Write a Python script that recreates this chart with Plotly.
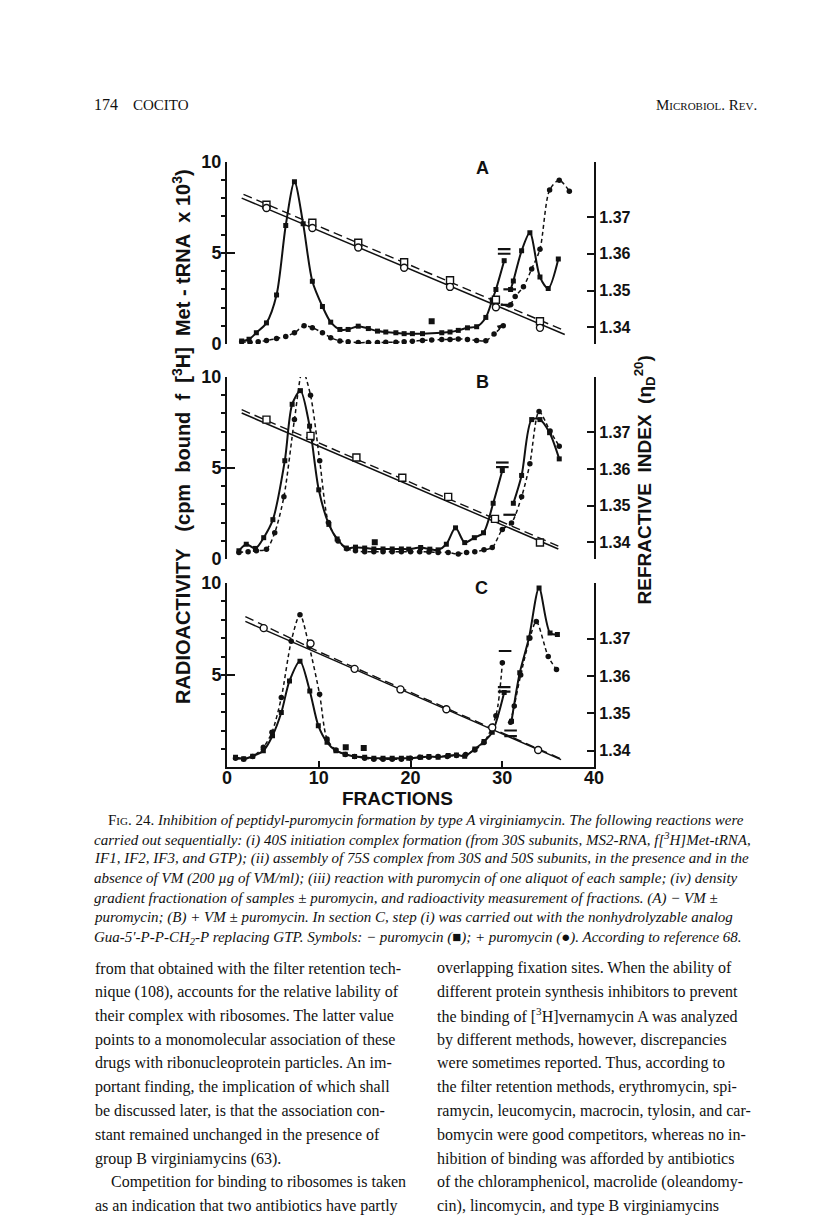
import plotly.graph_objects as go

PAGE_W, PAGE_H = 816, 1218

# ---------------------------------------------------------------
# data
# x = fraction number, y = radioactivity (cpm x 10^3)
# "minus" = - puromycin (squares, solid), "plus" = + puromycin (dots, dashed)
# None splits a curve where the original breaks it
# ---------------------------------------------------------------

# panel A  (- VM)
a_minus_x = [1.6, 2.4, 3.2, 4.3, 5.4, 6.4, 7.35, 8.3, 9.3, 10.4, 11.3, 12.3, 13.2, 14.3, 15.4, 16.4, 17.3, 18.4, 19.3, 20.2,
             21.3, 23.4, 24.3, 25.2, 26.2, 27.2, 28.2, 28.9, 29.3, 30.2, None, 30.9, 31.2, 32.1, 33.0, 34.1, 35.0, 36.1]
a_minus_y = [0.17, 0.26, 0.62, 1.16, 2.69, 6.5, 8.89, 6.59, 3.44, 2.06, 1.2, 0.8, 0.8, 0.98, 0.85, 0.71, 0.66, 0.62, 0.57, 0.57,
             0.57, 0.62, 0.66, 0.75, 0.89, 0.95, 1.46, 2.42, 2.99, 4.57, None, 2.99, 3.46, 5.11, 6.1, 3.67, 3.05, 4.66]
a_plus_x = [1.6, 2.5, 3.4, 4.3, 5.4, 6.4, 7.35, 8.4, 9.3, 10.4, 11.3, 12.3, 13.2, 14.3, 15.4, 16.4, 17.3, 18.4, 19.3, 20.2,
            21.3, 22.3, 23.4, 24.3, 25.2, 26.2, 27.2, 28.2, 29.1, 30.1, None, 30.9, 31.4, 32.3, 33.2, 34.1, 35.15, 36.2, 37.3]
a_plus_y = [0.12, 0.1, 0.12, 0.2, 0.3, 0.42, 0.62, 1.0, 0.9, 0.62, 0.35, 0.17, 0.12, 0.08, 0.08, 0.08, 0.1, 0.1, 0.12, 0.15,
            0.2, 0.22, 0.25, 0.25, 0.28, 0.25, 0.2, 0.18, 0.55, 1.0, None, 2.15, 2.6, 3.14, 4.12, 5.2, 8.44, 8.98, 8.38]
a_stray_x = [22.3]
a_stray_y = [1.25]
a_bar_x = [30.2, 30.2, 30.5, 30.8]
a_bar_y = [4.95, 5.2, 2.15, 3.0]
a_arrow_x = [30.25]
a_arrow_y = [1.1]

# panel B  (+ VM)
b_minus_x = [1.3, 2.1, 3.1, 4.0, 5.0, 6.3, 7.1, 8.0, 9.0, 10.0, 11.1, 12.0, 13.0, 14.0, 15.0, 16.0, 17.0, 18.0, 19.0, 19.8,
             21.1, 22.1, 23.0, 23.9, 24.9, 25.9, 26.95, 27.95, 29.0, 30.0, None, 31.2, 32.1, 33.2, 34.1, 35.15, 36.2]
b_minus_y = [0.45, 0.81, 0.58, 1.17, 2.16, 5.4, 8.5, 9.25, 7.3, 3.8, 1.9, 1.1, 0.6, 0.65, 0.6, 0.55, 0.55, 0.55, 0.55, 0.54,
             0.63, 0.54, 0.5, 0.81, 1.71, 0.9, 1.17, 1.44, 3.06, 4.86, None, 3.06, 4.59, 7.66, 7.66, 6.94, 5.5]
b_plus_x = [1.3, 2.3, 3.2, 4.3, 5.2, 6.2, 7.35, 8.24, 9.1, 10.1, 11.05, 12.1, 13.05, 14.0, 15.0, 16.0, 17.0, 18.0, 19.0, 20.0,
            21.0, 22.0, 23.0, 24.1, 25.2, 26.1, 27.0, 28.0, 28.9, 30.0, 31.0, 32.1, 33.0, 34.0, 35.2, 36.2]
b_plus_y = [0.36, 0.4, 0.45, 0.54, 1.44, 3.42, 7.66, 10.36, 9.0, 5.4, 2.0, 0.99, 0.56, 0.45, 0.4, 0.4, 0.4, 0.4, 0.4, 0.4,
            0.4, 0.38, 0.36, 0.36, 0.27, 0.36, 0.4, 0.5, 0.63, 1.62, 1.98, 3.42, 5.23, 8.1, 7.03, 6.2]
b_stray_x = [16.1]
b_stray_y = [0.92]
b_bar_x = [30.0, 30.0, 30.8]
b_bar_y = [5.05, 5.3, 2.43]

# panel C  (GTP analog)
c_minus_x = [0.93, 1.82, 2.8, 3.96, 4.96, 5.92, 6.81, 7.95, 9.02, 9.95, 10.9, 11.87, 12.87, 13.9, 15.0, 16.0, 17.0, 18.0, 19.0, 19.8,
             21.1, 22.0, 23.0, 24.1, 25.0, 25.9, 27.0, 28.0, 28.9, 30.2, None, 31.0, 31.9, 32.9, 34.0, 35.2, 36.0]
c_minus_y = [0.55, 0.47, 0.61, 0.91, 1.72, 2.97, 4.68, 5.75, 4.14, 2.26, 1.36, 0.91, 0.72, 0.6, 0.55, 0.5, 0.5, 0.5, 0.5, 0.5,
             0.55, 0.6, 0.55, 0.65, 0.68, 0.61, 1.0, 1.4, 1.9, 4.05, None, 2.5, 5.12, 7.0, 9.7, 7.27, 7.19]
c_plus_x = [0.93, 1.82, 2.8, 3.96, 4.9, 5.92, 7.0, 7.95, 8.95, 10.09, 10.9, 11.87, 12.9, 13.9, 15.0, 16.0, 17.0, 18.0, 19.0, 20.0,
            21.0, 22.0, 23.0, 24.0, 25.0, 26.0, 27.0, 28.0, 29.3, 30.0, None, 30.9, 31.3, 32.0, 33.0, 33.7, 35.0, 35.9]
c_plus_y = [0.5, 0.45, 0.6, 1.09, 1.9, 3.78, 6.83, 8.26, 6.56, 3.96, 1.54, 0.95, 0.7, 0.6, 0.5, 0.45, 0.45, 0.45, 0.45, 0.5,
            0.55, 0.55, 0.6, 0.6, 0.65, 0.7, 0.95, 1.35, 2.8, 5.66, None, 2.44, 3.33, 5.0, 7.0, 7.9, 6.0, 5.3]
c_stray_x = [12.94, 14.9]
c_stray_y = [1.09, 1.06]
c_bar_x = [30.2, 30.2, 30.3, 30.9, 30.9]
c_bar_y = [4.1, 4.35, 6.3, 2.0, 1.7]

# refractive index (right axis): fitted lines and measured points
a_ri_line_x = [1.6, 36.8]
a_ri_line_y = [1.3751, 1.3381]
a_ri_dline_x = [1.8, 36.9]
a_ri_dline_y = [1.3761, 1.3390]
a_ri_pts_x = [4.3, 9.3, 14.3, 19.3, 24.3, 29.3, 34.1]
a_ri_pts_y = [1.3724, 1.3670, 1.3617, 1.3562, 1.3510, 1.3455, 1.3399]
a_ri_dpts_y = [1.3733, 1.3684, 1.3630, 1.3577, 1.3528, 1.3475, 1.3417]

b_ri_line_x = [1.6, 36.1]
b_ri_line_y = [1.3752, 1.3382]
b_ri_dline_x = [1.6, 36.1]
b_ri_dline_y = [1.3761, 1.3390]
b_ri_pts_x = [4.3, 9.1, 14.1, 19.1, 24.1, 29.2, 34.1]
b_ri_pts_y = [1.3734, 1.3690, 1.3631, 1.3576, 1.3524, 1.3464, 1.3400]

c_ri_line_x = [2.0, 36.4]
c_ri_line_y = [1.3746, 1.3376]
c_ri_dline_x = [2.0, 10.0, 36.4]
c_ri_dline_y = [1.3759, 1.3665, 1.3378]
c_ri_pts_x = [4.0, 9.1, 13.9, 18.9, 23.9, 28.9, 33.9]
c_ri_pts_y = [1.3728, 1.3687, 1.3619, 1.3564, 1.3511, 1.3462, 1.3402]

# axes
frac_ticks = [0, 10, 20, 30, 40]
radio_ticks = [0, 5, 10]
radio_ticks_c = [5, 10]          # panel C: the 0 is the one on the fraction axis
ri_ticks = [1.34, 1.35, 1.36, 1.37]
ri_labels = ["1.34", "1.35", "1.36", "1.37"]

INK = "#111111"
SANS = "Liberation Sans"
SERIF = "Liberation Serif"


def fx(p):
    return p / PAGE_W


def fy(p):
    return 1 - p / PAGE_H


def add_panel(fig, n, minus, plus, stray, bars, ri_solid, ri_dash, ri_pts, ri_pts2=None, ri_symbol="circle"):
    xa = "x" if n == 1 else f"x{n}"
    yl = "y" if n == 1 else f"y{2 * n - 1}"
    yr = f"y{2 * n}"

    # refractive index first, so the activity curves sit on top
    fig.add_trace(go.Scatter(x=ri_dash[0], y=ri_dash[1], xaxis=xa, yaxis=yr, mode="lines",
                             line=dict(color=INK, width=1.4, dash="9px,5px")))
    fig.add_trace(go.Scatter(x=ri_solid[0], y=ri_solid[1], xaxis=xa, yaxis=yr, mode="lines",
                             line=dict(color=INK, width=1.5)))
    if ri_pts2 is not None:
        fig.add_trace(go.Scatter(x=ri_pts2[0], y=ri_pts2[1], xaxis=xa, yaxis=yr, mode="markers",
                                 marker=dict(symbol="square", size=7, color="white", line=dict(color=INK, width=1.4))))
    fig.add_trace(go.Scatter(x=ri_pts[0], y=ri_pts[1], xaxis=xa, yaxis=yr, mode="markers",
                             marker=dict(symbol=ri_symbol, size=7, color="white", line=dict(color=INK, width=1.4))))

    # - puromycin
    fig.add_trace(go.Scatter(x=minus[0], y=minus[1], xaxis=xa, yaxis=yl, mode="lines+markers",
                             line=dict(color=INK, width=2, shape="spline", smoothing=0.8),
                             marker=dict(symbol="square", size=5, color=INK)))
    # + puromycin
    fig.add_trace(go.Scatter(x=plus[0], y=plus[1], xaxis=xa, yaxis=yl, mode="lines+markers",
                             line=dict(color=INK, width=1.5, dash="4px,3px", shape="spline", smoothing=0.8),
                             marker=dict(symbol="circle", size=5.5, color=INK)))
    fig.add_trace(go.Scatter(x=stray[0], y=stray[1], xaxis=xa, yaxis=yl, mode="markers",
                             marker=dict(symbol="square", size=6, color=INK)))
    # the little bars where the curves are broken
    fig.add_trace(go.Scatter(x=bars[0], y=bars[1], xaxis=xa, yaxis=yl, mode="markers",
                             marker=dict(symbol="line-ew", size=9, line=dict(color=INK, width=2.2))))


def build_figure():
    fig = go.Figure()

    add_panel(fig, 1, (a_minus_x, a_minus_y), (a_plus_x, a_plus_y), (a_stray_x, a_stray_y), (a_bar_x, a_bar_y),
              (a_ri_line_x, a_ri_line_y), (a_ri_dline_x, a_ri_dline_y), (a_ri_pts_x, a_ri_pts_y),
              ri_pts2=(a_ri_pts_x, a_ri_dpts_y))
    fig.add_trace(go.Scatter(x=a_arrow_x, y=a_arrow_y, xaxis="x", yaxis="y", mode="markers",
                             marker=dict(symbol="arrow", size=8, angle=60, color=INK)))
    add_panel(fig, 2, (b_minus_x, b_minus_y), (b_plus_x, b_plus_y), (b_stray_x, b_stray_y), (b_bar_x, b_bar_y),
              (b_ri_line_x, b_ri_line_y), (b_ri_dline_x, b_ri_dline_y), (b_ri_pts_x, b_ri_pts_y), ri_symbol="square")
    add_panel(fig, 3, (c_minus_x, c_minus_y), (c_plus_x, c_plus_y), (c_stray_x, c_stray_y), (c_bar_x, c_bar_y),
              (c_ri_line_x, c_ri_line_y), (c_ri_dline_x, c_ri_dline_y), (c_ri_pts_x, c_ri_pts_y))

    # panel frames in page pixels: (top of 10, bottom at 0)
    frames = [(146, 331.5), (365, 550), (574, 762)]
    x_dom = [fx(218), fx(592)]
    tick_font = dict(family=SANS, size=18, color=INK, weight="bold")
    ri_font = dict(family=SANS, size=16, color=INK, weight="bold")

    layout = dict(
        width=PAGE_W, height=PAGE_H, margin=dict(l=0, r=0, t=0, b=0),
        paper_bgcolor="white", plot_bgcolor="rgba(0,0,0,0)", showlegend=False,
    )
    for i, (top, bot) in enumerate(frames, start=1):
        xname = "xaxis" if i == 1 else f"xaxis{i}"
        yl = "yaxis" if i == 1 else f"yaxis{2 * i - 1}"
        yr = f"yaxis{2 * i}"
        ylid = "y" if i == 1 else f"y{2 * i - 1}"
        xid = "x" if i == 1 else f"x{i}"
        layout[xname] = dict(domain=x_dom, range=[0, 40], anchor=ylid, showgrid=False, zeroline=False,
                             visible=(i == 3), showline=True, linecolor=INK, linewidth=2,
                             ticks="inside", ticklen=6, tickwidth=2, tickcolor=INK,
                             tickvals=frac_ticks, tickfont=tick_font, ticklabelstandoff=-7)
        layout[yl] = dict(domain=[fy(bot), fy(top)], range=[0, 10], anchor=xid, showgrid=False, zeroline=False,
                          showline=True, linecolor=INK, linewidth=2,
                          ticks="inside", ticklen=8, tickwidth=2, tickcolor=INK,
                          tickvals=radio_ticks_c if i == 3 else radio_ticks, tickfont=tick_font,
                          minor=dict(dtick=1, ticks="outside", ticklen=4, tickwidth=1.5, tickcolor=INK))
        layout[yr] = dict(overlaying=ylid, side="right", anchor=xid, range=[1.3355, 1.385],
                          showgrid=False, zeroline=False, showline=True, linecolor=INK, linewidth=2,
                          ticks="inside", ticklen=7, tickwidth=2, tickcolor=INK,
                          tickvals=ri_ticks, ticktext=ri_labels, tickfont=ri_font)
    fig.update_layout(**layout)

    ann = []

    def text(x, y, s, size, family=SANS, xanchor="center", angle=0, bold=False):
        ann.append(dict(x=fx(x), y=fy(y), xref="paper", yref="paper", text=s, showarrow=False,
                        xanchor=xanchor, yanchor="middle", textangle=angle,
                        font=dict(family=family, size=size, color=INK, weight="bold" if bold else "normal")))

    # running head
    text(80, 88, "174", 16, SERIF, "left")
    text(120, 88, "COCITO", 15, SERIF, "left")
    text(760, 88, "M<span style='font-size:11px'>ICROBIOL</span>. R<span style='font-size:11px'>EV</span>.",
         15, SERIF, "right")

    # panel letters
    text(478, 153, "A", 18, bold=True)
    text(478, 370, "B", 18, bold=True)
    text(477, 580, "C", 18, bold=True)

    nb = "\u00a0"
    text(171, 425, f"RADIOACTIVITY{nb*3}(cpm{nb*2}bound{nb*2}f{nb*2}[<sup>3</sup>H]{nb*2}Met{nb}-{nb}tRNA{nb*2}x{nb}10<sup>3</sup>)",
         20, angle=-90, bold=True)
    text(643, 470, f"REFRACTIVE{nb*2}INDEX{nb*2}(η<sub>D</sub><sup>20</sup>)", 19, angle=-90, bold=True)
    text(392, 794, "FRACTIONS", 19, bold=True)

    # figure caption
    cap = [
        "F<span style='font-size:11px'>IG</span>. 24. <i>Inhibition of peptidyl-puromycin formation by type A virginiamycin. The following reactions were</i>",
        "<i>carried out sequentially: (i) 40S initiation complex formation (from 30S subunits, MS2-RNA, f[<sup>3</sup>H]Met-tRNA,</i>",
        "<i>IF1, IF2, IF3, and GTP); (ii) assembly of 75S complex from 30S and 50S subunits, in the presence and in the</i>",
        "<i>absence of VM (200 µg of VM/ml); (iii) reaction with puromycin of one aliquot of each sample; (iv) density</i>",
        "<i>gradient fractionation of samples ± puromycin, and radioactivity measurement of fractions. (A) − VM ±</i>",
        "<i>puromycin; (B) + VM ± puromycin. In section C, step (i) was carried out with the nonhydrolyzable analog</i>",
        "<i>Gua-5′-P-P-CH<sub>2</sub>-P replacing GTP. Symbols: − puromycin (■); + puromycin (●). According to reference 68.</i>",
    ]
    for i, line in enumerate(cap):
        text(95 if i == 0 else 80, 815 + 20.0 * i, line, 15, SERIF, "left")

    left_col = [
        "from that obtained with the filter retention tech-",
        "nique (108), accounts for the relative lability of",
        "their complex with ribosomes. The latter value",
        "points to a monomolecular association of these",
        "drugs with ribonucleoprotein particles. An im-",
        "portant finding, the implication of which shall",
        "be discussed later, is that the association con-",
        "stant remained unchanged in the presence of",
        "group B virginiamycins (63).",
        nb * 4 + "Competition for binding to ribosomes is taken",
        "as an indication that two antibiotics have partly",
    ]
    right_col = [
        "overlapping fixation sites. When the ability of",
        "different protein synthesis inhibitors to prevent",
        "the binding of [<sup>3</sup>H]vernamycin A was analyzed",
        "by different methods, however, discrepancies",
        "were sometimes reported. Thus, according to",
        "the filter retention methods, erythromycin, spi-",
        "ramycin, leucomycin, macrocin, tylosin, and car-",
        "bomycin were good competitors, whereas no in-",
        "hibition of binding was afforded by antibiotics",
        "of the chloramphenicol, macrolide (oleandomy-",
        "cin), lincomycin, and type B virginiamycins",
    ]
    for i, line in enumerate(left_col):
        text(82, 966 + 24.2 * i, line, 16, SERIF, "left")
    for i, line in enumerate(right_col):
        text(430, 966 + 24.2 * i, line, 16, SERIF, "left")

    fig.update_layout(annotations=ann)
    return fig


if __name__ == "__main__":
    fig = build_figure()
    fig.write_html("out.html")
    print("saved out.html")
